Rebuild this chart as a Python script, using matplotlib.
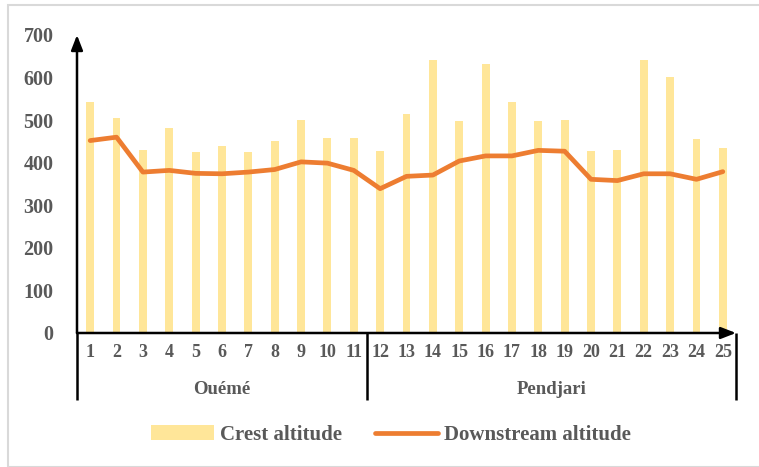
import matplotlib
matplotlib.use("Agg")
import matplotlib.pyplot as plt
import matplotlib.transforms as mtransforms
from matplotlib.patches import Rectangle
import numpy as np

categories = [str(i) for i in range(1, 26)]
crest = [542, 506, 431, 482, 425, 440, 425, 452, 500, 459, 459, 428,
         515, 641, 497, 632, 542, 497, 500, 428, 431, 641, 602, 455, 434]
downstream = [452, 460, 378, 382, 375, 374, 378, 384, 402, 399, 382, 339,
              368, 371, 404, 416, 416, 429, 427, 361, 358, 374, 374, 361, 379]
groups = ["Ouémé", "Pendjari"]
group_sizes = [11, 14]
yticks = [0, 100, 200, 300, 400, 500, 600, 700]

plt.rcParams['font.family'] = ['Liberation Serif', 'DejaVu Serif']
plt.rcParams['font.weight'] = 'bold'
txt = '#595959'

W, H = 759, 467
fig = plt.figure(figsize=(W/100, H/100), dpi=100)
ax = fig.add_axes([77/W, 1-333/H, (736-77)/W, (333-35)/H])

x = np.arange(len(categories))
bars = ax.bar(x, crest, width=0.3, color='#FFE699', label='Crest altitude', zorder=1)
line, = ax.plot(x, downstream, color='#ED7D31', lw=3.4, solid_capstyle='round',
                label='Downstream altitude', zorder=2)

ax.set_xlim(-0.5, len(categories)-0.5)
ax.set_ylim(0, 700)
ax.set_yticks(yticks)
ax.set_yticklabels([str(v) for v in yticks], color=txt, fontsize=14.5, fontweight='bold')
ax.set_xticks(x)
ax.set_xticklabels(categories, color=txt, fontsize=13, fontweight='bold')
ax.tick_params(axis='both', length=0)
ax.tick_params(axis='y', pad=17)
ax.tick_params(axis='x', pad=8)
for s in ax.spines.values():
    s.set_visible(False)

# axis arrows
ax.annotate('', xy=(0, 1.0), xytext=(0, 0), xycoords='axes fraction',
            arrowprops=dict(arrowstyle='-|>,head_length=0.9,head_width=0.35',
                            lw=1.8, color='black', shrinkA=0, shrinkB=0))
ax.annotate('', xy=(1.0, 0), xytext=(0, 0), xycoords='axes fraction',
            arrowprops=dict(arrowstyle='-|>,head_length=0.9,head_width=0.35',
                            lw=1.8, color='black', shrinkA=0, shrinkB=0))

# group separators and labels
trans = mtransforms.blended_transform_factory(ax.transData, ax.transAxes)
ybot = -(400-333)/(333-35)
bounds = [-0.5]
for g in group_sizes:
    bounds.append(bounds[-1] + g)
for b in bounds:
    ax.plot([b, b], [0, ybot], transform=trans, color='black', lw=1.8,
            clip_on=False, solid_capstyle='butt')
for i, g in enumerate(groups):
    c = (bounds[i] + bounds[i+1]) / 2
    ax.text(c, -(390-333)/(333-35), g, transform=trans, ha='center', va='center',
            color=txt, fontsize=13.5, fontweight='bold')

leg = fig.legend([bars, line], ['Crest altitude', 'Downstream altitude'],
                 loc='center', bbox_to_anchor=(391/W, 1-435/H), ncol=2, frameon=False,
                 fontsize=15, handlelength=3.0, columnspacing=1.6, handletextpad=0.3)
for t in leg.get_texts():
    t.set_color(txt)

fig.patches.append(Rectangle((8/W, 0), 1.0, 1-5/H, transform=fig.transFigure,
                             fill=False, edgecolor='#d9d9d9', lw=1.5))

fig.savefig('out.png', dpi=100)
